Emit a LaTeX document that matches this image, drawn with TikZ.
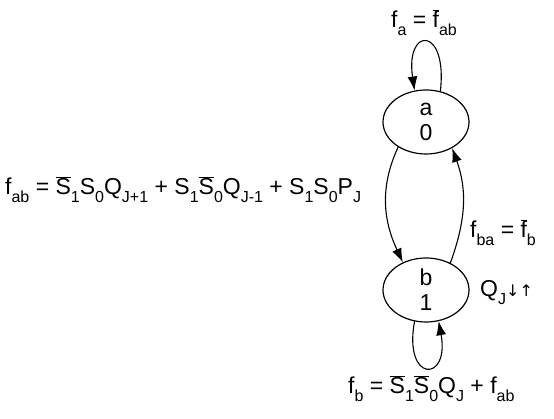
\documentclass[tikz,border=0pt]{standalone}
\usepackage{fontspec}
\setmainfont{Liberation Sans}
\newfontfamily\arrowfont{DejaVu Sans}
\usetikzlibrary{shapes.geometric, arrows.meta}
\newcommand{\lo}[1]{\raisebox{-0.6ex}{\fontsize{16}{16}\selectfont #1}}
\newcommand{\nt}[1]{\ensuremath{\overline{\mbox{#1}}}}
\tikzset{
  state/.style={draw, ellipse, line width=1.2pt, minimum width=86pt, minimum height=64pt, inner sep=0pt, align=center, font=\fontsize{23}{25}\selectfont},
  trans/.style={-{Latex[length=14pt,width=10pt]}, line width=1.1pt},
  lbl/.style={font=\fontsize{23}{26}\selectfont, anchor=base west, inner sep=0pt}
}
\begin{document}
\begin{tikzpicture}[x=1pt,y=1pt]
\useasboundingbox (0,0) rectangle (554,419);
% states
\node [state] (a) at (426,297) {a\\0};
\node [state] (b) at (426,129) {b\\1};
% transitions
\draw [trans] (a.65) .. controls (448,393) and (405,393) .. (a.110);
\draw [trans] (b.250) .. controls (403,36) and (450,36) .. (b.292);
\draw [trans] (a.222) to[out=245,in=115] (b.130);
\draw [trans] (b.48) to[out=70,in=290] (a.315);
% labels
\node [lbl] (fa) at (391,391) {f\lo{a} = \nt{f}\lo{ab}};
\node [lbl] (fab) at (5,224) {f\lo{ab} = \nt{S}\lo{1}S\lo{0}Q\lo{J+1} + S\lo{1}\nt{S}\lo{0}Q\lo{J-1} + S\lo{1}S\lo{0}P\lo{J}};
\node [lbl] (fba) at (470,181) {f\lo{ba} = \nt{f}\lo{b}};
\node [lbl] (qj) at (480,122) {Q\lo{J}{\arrowfont\fontsize{16}{16}\selectfont ↓↑}};
\node [lbl] (fb) at (348,25) {f\lo{b} = \nt{S}\lo{1}\nt{S}\lo{0}Q\lo{J} + f\lo{ab}};
\end{tikzpicture}
\end{document}
